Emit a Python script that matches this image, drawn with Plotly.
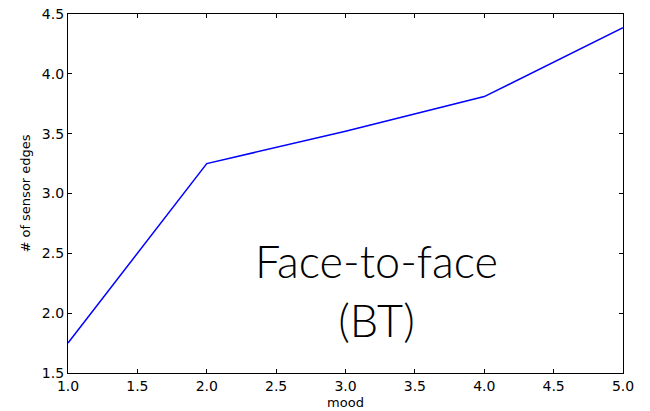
import plotly.graph_objects as go

mood = [1.0, 2.0, 3.0, 4.0, 5.0]
edges = [1.75, 3.25, 3.52, 3.81, 4.385]
x_ticks = [1.0, 1.5, 2.0, 2.5, 3.0, 3.5, 4.0, 4.5, 5.0]
y_ticks = [1.5, 2.0, 2.5, 3.0, 3.5, 4.0, 4.5]

fig = go.Figure()
fig.add_trace(go.Scatter(x=mood, y=edges, mode="lines",
                         line=dict(color="#0000ff", width=1.5), showlegend=False))

axis_common = dict(showgrid=False, zeroline=False, showline=True, linecolor="black",
                   linewidth=1.3, mirror="allticks", ticks="inside", ticklen=4,
                   tickcolor="black", tickwidth=1, automargin=False,
                   tickfont=dict(family="DejaVu Sans", size=14, color="black"))

fig.update_xaxes(range=[1.0, 5.0], tickvals=x_ticks,
                 ticktext=[f"{v:.1f}" for v in x_ticks],
                 title=dict(text="mood", font=dict(family="DejaVu Sans", size=13, color="black"),
                            standoff=4),
                 **axis_common)
fig.update_yaxes(range=[1.5, 4.5], tickvals=y_ticks,
                 ticktext=[f"{v:.1f}" for v in y_ticks],
                 title=dict(text="# of sensor edges", font=dict(family="DejaVu Sans", size=13, color="black"),
                            standoff=8),
                 **axis_common)

fig.add_annotation(x=3.22, y=2.19, xref="x", yref="y",
                   text="Face-to-face<br>(BT)", showarrow=False,
                   font=dict(family="Lato", size=45, color="black", weight=300),
                   align="center")

fig.update_layout(width=650, height=411, margin=dict(l=68, r=27, t=14, b=38),
                  plot_bgcolor="white", paper_bgcolor="white")

fig.write_html("out.html", config={"displayModeBar": False},
               post_script="document.body.style.margin='0';")
